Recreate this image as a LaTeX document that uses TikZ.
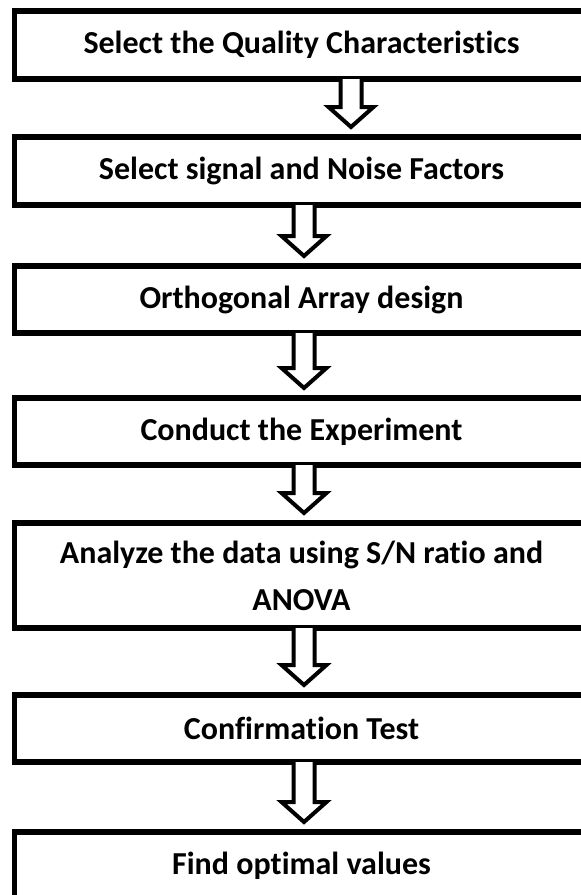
\documentclass[tikz,border=0pt]{standalone}
\usepackage{fontspec}
\setmainfont{Carlito}[Ligatures={NoCommon}]
\usetikzlibrary{calc}

% hollow block arrow hanging from the bottom of box #1 down towards box #2,
% drawn about the vertical axis x = #3 (in pt)
\newcommand\flowarrow[3]{%
  \path[arrowline] let \p1=(#1.south), \p2=(#2.north) in
    (#3pt-10.5pt,\y1) -- (#3pt-10.5pt,\y2+30pt) -- (#3pt-22.5pt,\y2+30pt)
    -- (#3pt,\y2+10pt)
    -- (#3pt+22.5pt,\y2+30pt) -- (#3pt+10.5pt,\y2+30pt) -- (#3pt+10.5pt,\y1);
}

\begin{document}
\begin{tikzpicture}[x=1pt,y=-1pt,
  stepbox/.style={draw=black, line width=5.5pt, minimum width=574pt,
    inner sep=0pt, outer sep=0pt, align=center,
    font=\bfseries\fontsize{32}{47}\selectfont},
  arrowline/.style={draw=black, fill=white, line width=4pt, line join=miter},
]
\useasboundingbox (0,0) rectangle (581,895);
\clip (0,0) rectangle (581,895);

% process steps
\node[stepbox, minimum height=68pt] (b1) at (301.5,45)    {Select the Quality Characteristics};
\node[stepbox, minimum height=68pt] (b2) at (301.5,171)   {Select signal and Noise Factors};
\node[stepbox, minimum height=67pt] (b3) at (301.5,299.5) {Orthogonal Array design};
\node[stepbox, minimum height=67pt] (b4) at (301.5,431.5) {Conduct the Experiment};
\node[stepbox, minimum height=105pt] (b5) at (301.5,575.5) {Analyze the data using S/N ratio and\\ANOVA};
\node[stepbox, minimum height=67pt] (b6) at (301.5,728.5) {Confirmation Test};
\node[stepbox, minimum height=68pt] (b7) at (301.5,866)   {Find optimal values};

% connectors
\flowarrow{b1}{b2}{351}
\flowarrow{b2}{b3}{304}
\flowarrow{b3}{b4}{304}
\flowarrow{b4}{b5}{304}
\flowarrow{b5}{b6}{304}
\flowarrow{b6}{b7}{304}
\end{tikzpicture}
\end{document}
